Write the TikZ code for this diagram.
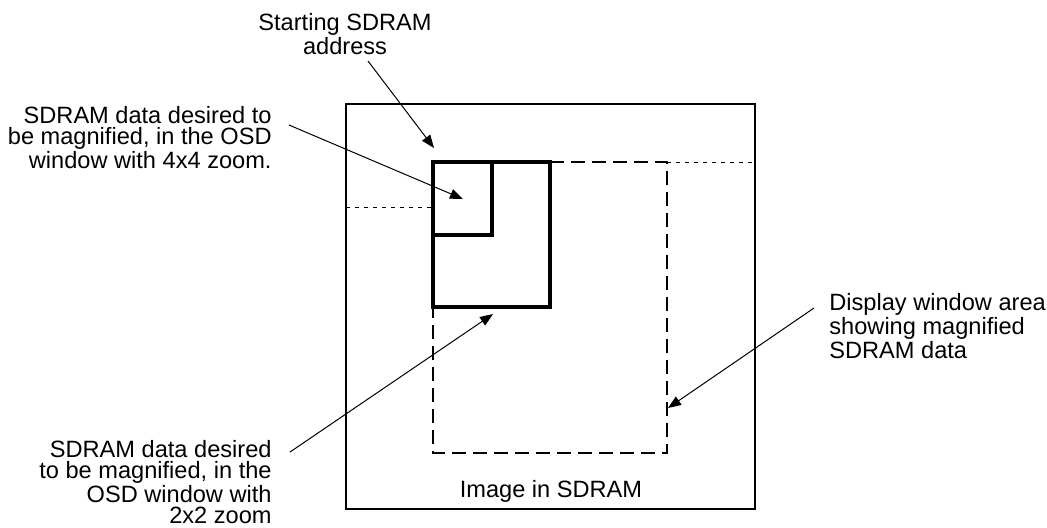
\documentclass[tikz,border=0pt]{standalone}
\usepackage{fontspec}
\setmainfont{Liberation Sans}
\usetikzlibrary{arrows.meta}
\tikzset{
  lbl/.style={inner sep=0pt,font=\fontsize{11.8}{10.5}\selectfont},
  pointer/.style={line width=0.5pt,-{Triangle[length=6.5pt,width=5pt]}},
  zoomwin/.style={line width=1.6pt,line join=miter},
  dispwin/.style={line width=1.4pt,dash pattern=on 7pt off 3.5pt},
  guide/.style={line width=0.5pt,dash pattern=on 2pt off 2.5pt},
}
\begin{document}
\begin{tikzpicture}[x=0.5pt,y=-0.5pt]
  \useasboundingbox (0,0) rectangle (1047,527);
  % image in SDRAM
  \draw[line width=1pt] (346,104) rectangle (755,509);
  \node[lbl,anchor=north] (image) at (551,480) {Image in SDRAM};
  % guide lines
  \draw[guide] (346,207) -- (433,207);
  \draw[guide] (667,162) -- (755,162);
  % display window
  \draw[dispwin] (550,162) -- (667,162) -- (667,453) -- (433,453) -- (433,307);
  % OSD windows
  \draw[zoomwin] (433,162) rectangle (550,307);
  \draw[zoomwin] (433,162) rectangle (492,235);
  % labels
  \node[lbl,anchor=north,align=center] (start) at (345,13) {Starting SDRAM\\address};
  \node[lbl,anchor=north east,align=right] (fourzoom) at (272,106)
    {SDRAM data desired to\\be magnified, in the OSD\\window with 4x4 zoom.};
  \node[lbl,anchor=north east,align=right] (twozoom) at (272,440)
    {SDRAM data desired\\to be magnified, in the\\OSD window with\\2x2 zoom};
  \node[lbl,anchor=north west,align=left] (display) at (829,293)
    {Display window area\\showing magnified\\SDRAM data};
  % pointers
  \coordinate (starttail) at (368,61);
  \coordinate (starttip) at (434,148);
  \coordinate (fourtail) at (289,125);
  \coordinate (fourtip) at (463,199);
  \coordinate (twotail) at (290,452);
  \coordinate (twotip) at (493,314);
  \coordinate (disptail) at (814,308);
  \coordinate (disptip) at (668,408);
  \draw[pointer] (starttail) -- (starttip);
  \draw[pointer] (fourtail) -- (fourtip);
  \draw[pointer] (twotail) -- (twotip);
  \draw[pointer] (disptail) -- (disptip);
\end{tikzpicture}
\end{document}
